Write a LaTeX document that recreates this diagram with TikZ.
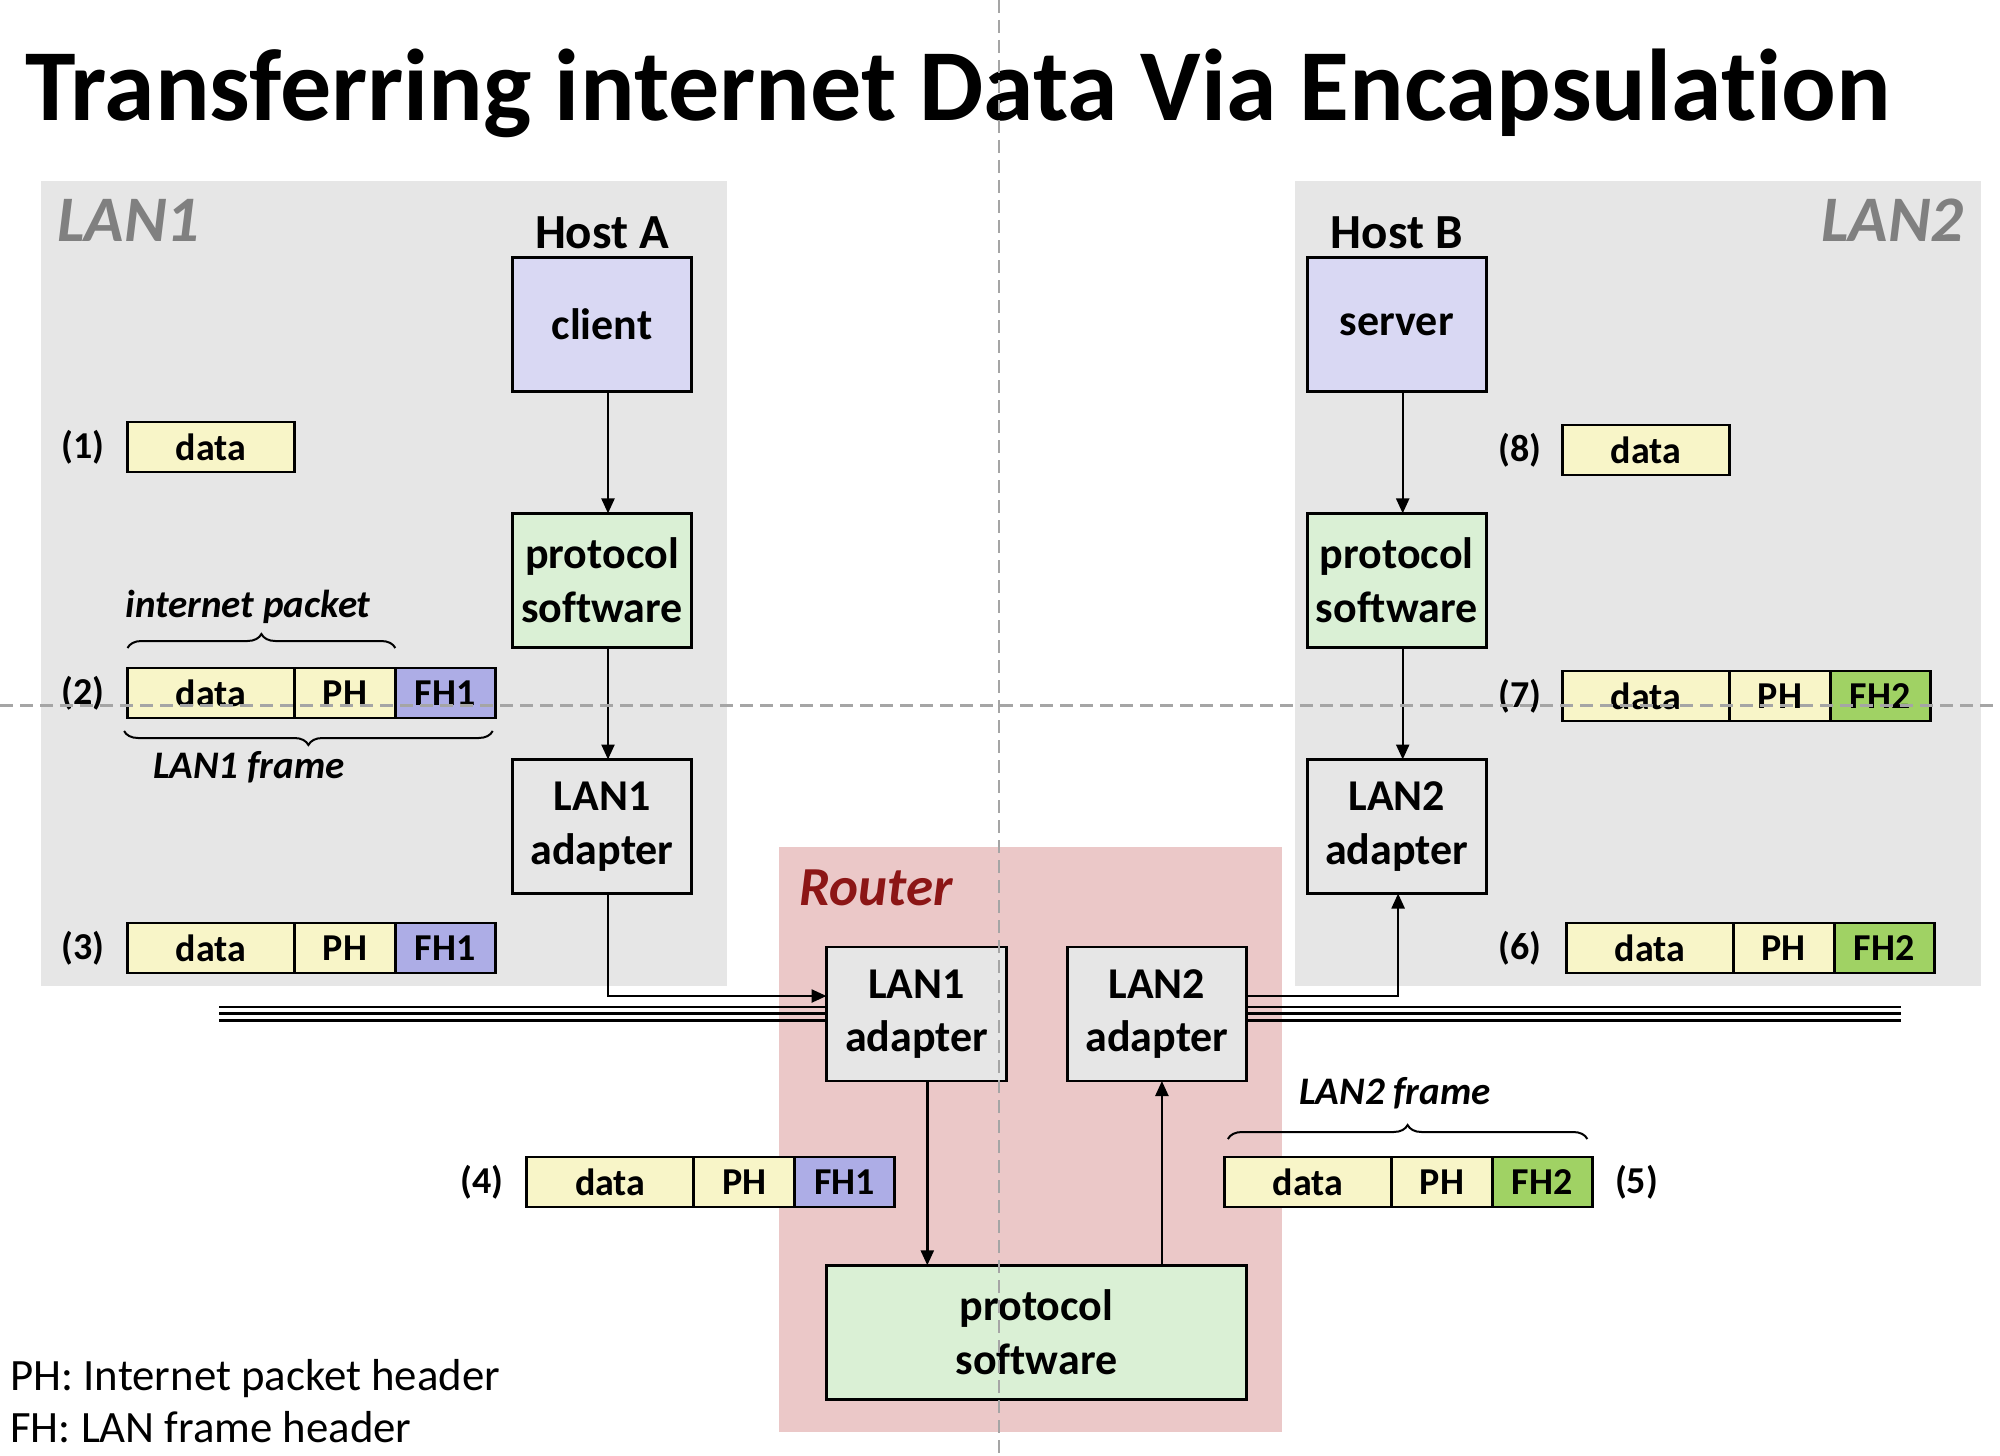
\documentclass[tikz,border=0pt]{standalone}
\usepackage{fontspec}
\setmainfont{Carlito}[Ligatures=NoCommon]
\usetikzlibrary{arrows.meta,decorations.pathreplacing,calc}
\definecolor{lanbg}{RGB}{230,230,230}
\definecolor{routerbg}{RGB}{235,200,200}
\definecolor{clientfill}{RGB}{217,216,243}
\definecolor{protofill}{RGB}{218,240,213}
\definecolor{adapfill}{RGB}{230,230,230}
\definecolor{datafill}{RGB}{248,245,200}
\definecolor{fhone}{RGB}{173,173,230}
\definecolor{fhtwo}{RGB}{160,210,100}
\definecolor{routertext}{RGB}{140,22,22}
\definecolor{langray}{RGB}{128,128,128}
\definecolor{guidegray}{RGB}{165,165,165}
\newcommand{\mypacket}[5]{%
  \node[cell, fill=datafill, minimum width=83.5pt] (#1d) at (#2,#3) {data};
  \node[cell, fill=datafill, minimum width=50.4pt] (#1p) at (#1d.east) {PH};
  \node[cell, fill=#4, minimum width=50pt] (#1f) at (#1p.east) {#5};
}
\begin{document}
\begin{tikzpicture}[x=0.5pt,y=-0.5pt,
  box/.style={draw=black, line width=1.4pt, inner sep=0pt, outer sep=0pt,
    minimum width=89.5pt, minimum height=67pt, align=center,
    font=\bfseries\fontsize{22}{26.8}\selectfont},
  cell/.style={draw=black, line width=1.4pt, inner sep=0pt, outer sep=0pt,
    minimum height=25pt, anchor=west, font=\bfseries\fontsize{19}{22}\selectfont},
  num/.style={inner sep=0pt, font=\bfseries\fontsize{19}{22}\selectfont},
  hostlbl/.style={inner sep=0pt, anchor=base, font=\bfseries\fontsize{24.5}{28}\selectfont},
  lanlbl/.style={inner sep=0pt, text=langray, font=\bfseries\itshape\fontsize{32.5}{39}\selectfont},
  framelbl/.style={inner sep=0pt, anchor=base, font=\bfseries\itshape\fontsize{19.5}{23}\selectfont},
  legend/.style={inner sep=0pt, anchor=base west, font=\fontsize{22.4}{26}\selectfont},
  ar/.style={line width=1.2pt, -{Triangle[length=7.5pt,width=6.5pt]}},
  brc/.style={line width=1pt, decorate, decoration={brace, amplitude=7pt}},
  guide/.style={guidegray, line width=1.2pt, dash pattern=on 6.5pt off 3.5pt},
]
\useasboundingbox (0,0) rectangle (2000,1455);
\fill[white] (0,0) rectangle (2000,1455);
% backgrounds
\fill[lanbg] (41,181) rectangle (727,986);
\fill[lanbg] (1295,181) rectangle (1981,986);
\fill[routerbg] (779,847) rectangle (1282,1432);

% title
\node[anchor=base west, inner sep=0pt, font=\bfseries\fontsize{51}{60}\selectfont] (title) at (25,121) {Transferring internet Data Via Encapsulation};

% labels
\node[lanlbl, anchor=base west] (lan1) at (57,242) {LAN1};
\node[lanlbl, anchor=base east] (lan2) at (1964,242) {LAN2};
\node[hostlbl] (hostA) at (602,248.7) {Host A};
\node[hostlbl] (hostB) at (1396.7,248.7) {Host B};
\node[inner sep=0pt, anchor=base west, text=routertext, font=\bfseries\itshape\fontsize{27.5}{32}\selectfont] (router) at (799,905) {Router};

% host A
\node[box, fill=clientfill] (client) at (602,324.6) {client};
\node[box, fill=protofill] (protoA) at (602,580.4) {protocol\\software};
\node[box, fill=adapfill] (adapA) at (602,826.5) {LAN1\\adapter};
% host B
\node[box, fill=clientfill] (server) at (1396.7,324.6) {server};
\node[box, fill=protofill] (protoB) at (1396.7,580.4) {protocol\\software};
\node[box, fill=adapfill] (adapB) at (1396.7,826.5) {LAN2\\adapter};
% router
\node[box, fill=adapfill, minimum width=90pt] (rA1) at (916.5,1014) {LAN1\\adapter};
\node[box, fill=adapfill] (rA2) at (1156.9,1014) {LAN2\\adapter};
\node[box, fill=protofill, minimum width=210pt] (rProto) at (1036.4,1332.3) {protocol\\software};

% network lines
\coordinate (netL) at (219.4,1013.5);
\coordinate (netR) at (1900.5,1013.5);
\draw[line width=1pt] ($(netL)+(0,-7)$) -- ($(rA1.west |- netL)+(0,-7)$);
\draw[line width=1.6pt] (netL) -- (rA1.west |- netL);
\draw[line width=1.4pt] ($(netL)+(0,7)$) -- ($(rA1.west |- netL)+(0,7)$);
\draw[line width=1pt] ($(rA2.east |- netR)+(0,-7)$) -- ($(netR)+(0,-7)$);
\draw[line width=1.6pt] (rA2.east |- netR) -- (netR);
\draw[line width=1.4pt] ($(rA2.east |- netR)+(0,7)$) -- ($(netR)+(0,7)$);

% arrows
\draw[ar] ([xshift=3pt]client.south) -- ([xshift=3pt]protoA.north);
\draw[ar] ([xshift=3pt]protoA.south) -- ([xshift=3pt]adapA.north);
\draw[ar] ([xshift=3pt]server.south) -- ([xshift=3pt]protoB.north);
\draw[ar] ([xshift=3pt]protoB.south) -- ([xshift=3pt]adapB.north);
\draw[ar] ([xshift=3pt]adapA.south) |- ([yshift=9pt]rA1.west);
\draw[ar] ([yshift=9pt]rA2.east) -| ([xshift=0.7pt]adapB.south);
\draw[ar] ([xshift=5.4pt]rA1.south) -- ([xshift=5.4pt]rA1.south |- rProto.north);
\draw[ar] ([xshift=2.5pt]rA2.south |- rProto.north) -- ([xshift=2.5pt]rA2.south);

% packets
\node[cell, fill=datafill, minimum width=83.5pt] (p1d) at (127.5,447) {data};
\mypacket{p2}{127.5}{693}{fhone}{FH1}
\mypacket{p3}{127.5}{948}{fhone}{FH1}
\mypacket{p4}{526.8}{1182}{fhone}{FH1}
\mypacket{p5}{1224.5}{1182}{fhtwo}{FH2}
\node[cell, fill=datafill, minimum width=83.5pt] (p8d) at (1562.5,450) {data};
\mypacket{p7}{1562.5}{696}{fhtwo}{FH2}
\mypacket{p6}{1566.3}{948}{fhtwo}{FH2}

% step numbers
\node[num] (n1) at (83,447) {(1)};
\node[num] (n2) at (83,693) {(2)};
\node[num] (n3) at (83,948) {(3)};
\node[num] (n4) at (482,1182) {(4)};
\node[num] (n5) at (1636.5,1182) {(5)};
\node[num] (n6) at (1520,948) {(6)};
\node[num] (n7) at (1520,696) {(7)};
\node[num] (n8) at (1520,450) {(8)};

% braces
\draw[brc] ([yshift=10pt]p2d.north west) -- ([yshift=10pt]p2p.north east);
\node[framelbl] (ipk) at (248,617) {internet packet};
\draw[brc] ([xshift=-1.3pt,yshift=-6.5pt]p2f.south east) -- ([xshift=-1.7pt,yshift=-6.5pt]p2d.south west);
\node[framelbl] (l1f) at (249,778) {LAN1 frame};
\draw[brc] ([xshift=1.7pt,yshift=9pt]p5d.north west) -- ([xshift=-2.5pt,yshift=9pt]p5f.north east);
\node[framelbl] (l2f) at (1395,1104.6) {LAN2 frame};

% legend
\node[legend] (leg1) at (10,1390) {PH: Internet packet header};
\node[legend] (leg2) at (10,1442) {FH: LAN frame header};

% guide lines
\coordinate (gT) at (999,0);
\coordinate (gB) at (999,1455);
\coordinate (gL) at (0,705.4);
\coordinate (gR) at (2000,705.4);
\draw[guide] (gT) -- (gB);
\draw[guide] (gL) -- (gR);
\end{tikzpicture}
\end{document}
